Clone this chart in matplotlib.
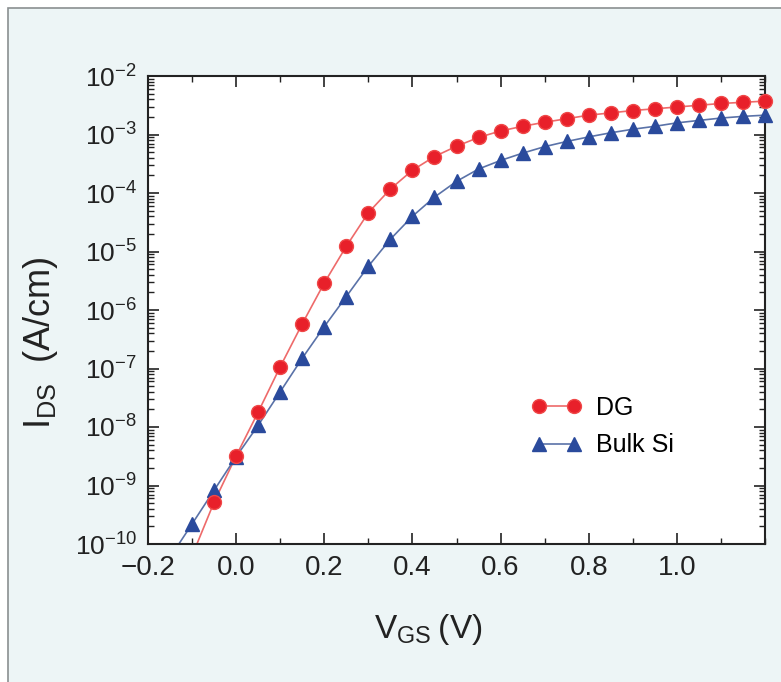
import numpy as np
import matplotlib.pyplot as plt
from matplotlib.patches import Rectangle
from matplotlib.ticker import LogLocator, MultipleLocator, NullFormatter

plt.rcParams["font.family"] = ["Liberation Sans", "DejaVu Sans"]
plt.rcParams["mathtext.fontset"] = "custom"
plt.rcParams["mathtext.rm"] = "Liberation Sans"
plt.rcParams["mathtext.default"] = "regular"

# Transfer characteristics, I_DS vs V_GS
vgs_dg = [-0.05, 0.0, 0.05, 0.10, 0.15, 0.20, 0.25, 0.30, 0.35, 0.40, 0.45, 0.50, 0.55,
          0.60, 0.65, 0.70, 0.75, 0.80, 0.85, 0.90, 0.95, 1.00, 1.05, 1.10, 1.15, 1.20]
ids_dg = [5.2e-10, 3.2e-9, 1.8e-8, 1.07e-7, 5.8e-7, 2.9e-6, 1.23e-5, 4.6e-5, 1.17e-4,
          2.45e-4, 4.2e-4, 6.3e-4, 8.9e-4, 1.15e-3, 1.38e-3, 1.62e-3, 1.86e-3, 2.14e-3,
          2.34e-3, 2.57e-3, 2.75e-3, 2.95e-3, 3.16e-3, 3.39e-3, 3.55e-3, 3.72e-3]

vgs_bulk = [-0.10, -0.05, 0.0, 0.05, 0.10, 0.15, 0.20, 0.25, 0.30, 0.35, 0.40, 0.45, 0.50,
            0.55, 0.60, 0.65, 0.70, 0.75, 0.80, 0.85, 0.90, 0.95, 1.00, 1.05, 1.10, 1.15, 1.20]
ids_bulk = [2.2e-10, 8.3e-10, 3.1e-9, 1.07e-8, 4.0e-8, 1.5e-7, 5.2e-7, 1.7e-6, 5.6e-6,
            1.62e-5, 4.0e-5, 8.5e-5, 1.58e-4, 2.57e-4, 3.6e-4, 4.8e-4, 6.2e-4, 7.6e-4,
            9.1e-4, 1.07e-3, 1.23e-3, 1.38e-3, 1.58e-3, 1.74e-3, 1.91e-3, 2.04e-3, 2.14e-3]

# where each curve leaves the bottom of the plot
tail_dg = (-0.089, 1e-10)
tail_bulk = (-0.13, 1e-10)

red = "#e8202a"
red_line = "#ee6a6a"
blue = "#2a4a9c"
blue_line = "#5a72a8"

fig = plt.figure(figsize=(7.81, 6.82), dpi=100, facecolor="white")
fig.add_artist(Rectangle((8 / 781, -0.05), 1.1, 1 - 8 / 682 + 0.05,
                         transform=fig.transFigure, facecolor="#edf5f6",
                         edgecolor="#8a8f90", linewidth=1.2, zorder=-10))

ax = fig.add_axes([148 / 781, 1 - 544 / 682, 617 / 781, 468 / 682])
ax.set_facecolor("white")

ax.plot([tail_dg[0]] + vgs_dg, [tail_dg[1]] + ids_dg, color=red_line, lw=1.2, zorder=2)
ax.plot([tail_bulk[0]] + vgs_bulk, [tail_bulk[1]] + ids_bulk, color=blue_line, lw=1.2, zorder=2)
ax.plot(vgs_dg, ids_dg, linestyle="none", marker="o", ms=10, color=red,
        markeredgecolor="#f04848", clip_on=False, zorder=4)
ax.plot(vgs_bulk, ids_bulk, linestyle="none", marker="^", ms=10, color=blue,
        markeredgecolor=blue, clip_on=False, zorder=3)

# legend entries
ax.plot([], [], color=red_line, lw=1.2, marker="o", ms=10, mfc=red, mec="#f04848", label="DG")
ax.plot([], [], color=blue_line, lw=1.2, marker="^", ms=10, mfc=blue, mec=blue, label="Bulk Si")
leg = ax.legend(loc="upper left", bbox_to_anchor=(0.585, 0.365), frameon=False,
                fontsize=18, handlelength=2.0, handletextpad=0.6, labelspacing=0.55,
                numpoints=2)

ax.set_yscale("log")
ax.set_xlim(-0.2, 1.2)
ax.set_ylim(1e-10, 1e-2)
ax.xaxis.set_major_locator(MultipleLocator(0.2))
ax.xaxis.set_minor_locator(MultipleLocator(0.1))
ax.yaxis.set_major_locator(LogLocator(base=10, numticks=20))
ax.yaxis.set_minor_locator(LogLocator(base=10, subs=np.arange(2, 10), numticks=20))
ax.yaxis.set_minor_formatter(NullFormatter())
ax.set_xticks([-0.2, 0.0, 0.2, 0.4, 0.6, 0.8, 1.0])
ax.set_xticklabels(["\u22120.2", "0.0", "0.2", "0.4", "0.6", "0.8", "1.0"])

ax.tick_params(which="both", direction="in", top=True, right=True, color="#222222")
ax.tick_params(which="major", length=8, width=1.2)
ax.tick_params(which="minor", length=4, width=1.0)
ax.tick_params(axis="x", labelsize=20, pad=8, labelcolor="#222222")
ax.tick_params(axis="y", labelsize=19, pad=8, labelcolor="#222222")
for s in ax.spines.values():
    s.set_linewidth(1.5)
    s.set_color("#222222")

ax.set_xlabel("V$_{GS}$\u2009(V)", fontsize=24, color="#222222")
ax.xaxis.set_label_coords(0.454, -0.145)
ax.set_ylabel("I$_{DS}$  (A/cm)", fontsize=26, color="#222222")
ax.yaxis.set_label_coords(-0.142, 0.43)

plt.savefig("out.png", dpi=100, facecolor=fig.get_facecolor())
